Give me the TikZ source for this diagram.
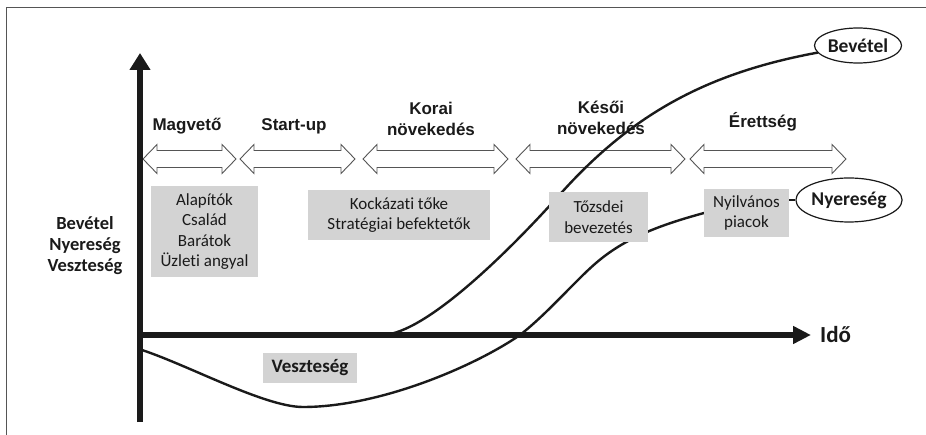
\documentclass[tikz,border=0pt]{standalone}
\usepackage{fontspec}
\setmainfont{Carlito}[Ligatures=NoCommon]
\newfontfamily\arialfont{Liberation Sans}
\usetikzlibrary{arrows.meta,shapes.geometric}

\definecolor{ink}{HTML}{1A1A1A}
\definecolor{boxgray}{HTML}{D3D3D3}
\definecolor{framegray}{HTML}{555555}

% hollow double-headed arrow for one stage: #1 = left tip, #2 = right tip
\newcommand\phasearrow[2]{%
  \draw[stagearrow] (#1,159) -- ({#1+14},144.5) -- ({#1+14},150.5) --
    ({#2-14},150.5) -- ({#2-14},144.5) -- (#2,159) -- ({#2-14},173.5) --
    ({#2-14},167.5) -- ({#1+14},167.5) -- ({#1+14},173.5) -- cycle;}

\tikzset{
  stagearrow/.style={draw=framegray, fill=white, line width=0.9pt, line join=miter},
  stagelabel/.style={text=ink, align=center, inner sep=0pt,
    font={\arialfont\bfseries\fontsize{17}{21}\selectfont}},
  axisline/.style={draw=ink, line width=5.5pt},
  curve/.style={draw=ink, line width=2.4pt, line cap=round},
  grayboxnode/.style={fill=boxgray, text=ink, align=center, inner sep=0pt,
    font={\fontsize{17}{20.5}\selectfont}},
  ovalnode/.style={ellipse, draw=ink, fill=white, line width=1.2pt, inner sep=0pt,
    text=ink, font={\bfseries\fontsize{19.5}{23}\selectfont}},
  boldlabel/.style={text=ink, align=center, inner sep=0pt,
    font={\bfseries\fontsize{18.5}{21}\selectfont}},
}

\begin{document}
\begin{tikzpicture}[x=1pt, y=-1pt]
\useasboundingbox (0,0) rectangle (926,435);

% frame
\draw[framegray, line width=1pt] (926,8) -- (6,8) -- (6,435);

% stages
\phasearrow{143}{236}
\phasearrow{240}{355}
\phasearrow{363}{508}
\phasearrow{516}{685}
\phasearrow{690}{846}

\node[stagelabel] (s1) at (187,126) {Magvető};
\node[stagelabel] (s2) at (294,126) {Start-up};
\node[stagelabel] (s3) at (431,119) {Korai\\növekedés};
\node[stagelabel] (s4) at (601,118) {Késői\\növekedés};
\node[stagelabel] (s5) at (763,122) {Érettség};

% axes
\coordinate (origin) at (140,335);
\coordinate (ytop) at (140,53);
\coordinate (ybot) at (140,422);
\coordinate (xend) at (811,335);
\draw[axisline, -{Triangle[width=20pt,length=17pt]}] (ybot) -- (ytop);
\draw[axisline, -{Triangle[width=17pt,length=18pt]}] (137.5,335) -- (xend);

\node[boldlabel] (ylab) at (85,246) {Bevétel\\Nyereség\\Veszteség};
\node[text=ink, inner sep=0pt, font={\bfseries\fontsize{23}{26}\selectfont},
  anchor=west] (xlab) at (820,335) {Idő};

% end labels
\node[ovalnode, minimum width=87pt, minimum height=35pt] (bev) at (858,45.5) {Bevétel};
\node[ovalnode, minimum width=88pt, minimum height=44pt] (nyer) at (849,200) {Nyereség};

% revenue curve: leaves the time axis and runs up to its label
\coordinate (revstart) at (383,335);
\coordinate (revmid) at (563,191);
\draw[curve] (revstart) .. controls (425,333) and (505,256) .. (revmid)
  .. controls (633,114) and (707,73) .. (bev.190);

% profit curve: dips below the axis, then climbs to the public-market box
\coordinate (profstart) at (142,350);
\coordinate (proflow) at (303,407);
\coordinate (profzero) at (520,335);
\coordinate (profmid) at (596,263);
\coordinate (profend) at (704,213);
\draw[curve] (profstart) .. controls (190,366) and (265,407) .. (proflow)
  .. controls (380,407) and (475,366) .. (profzero)
  .. controls (548,313) and (575,281) .. (profmid)
  .. controls (625,238) and (660,225) .. (profend);

% funding sources
\node[grayboxnode, minimum width=107pt, minimum height=91pt] (b1) at (204.5,231.5)
  {Alapítók\\Család\\Barátok\\Üzleti angyal};
\node[grayboxnode, minimum width=182pt, minimum height=50pt] (b2) at (399,215)
  {Kockázati tőke\\Stratégiai befektetők};
\node[grayboxnode, minimum width=99pt, minimum height=50pt] (b3) at (598.5,217)
  {Tőzsdei\\bevezetés};
\node[grayboxnode, minimum width=85pt, minimum height=48pt] (b4) at (746.5,213)
  {Nyilvános\\piacok};
\node[grayboxnode, minimum width=94pt, minimum height=30pt,
  font={\bfseries\fontsize{19}{22}\selectfont}] (b5) at (310,368) {Veszteség};

\draw[curve, line cap=butt] (b4.east |- nyer.west) -- (nyer.west);
\end{tikzpicture}
\end{document}
